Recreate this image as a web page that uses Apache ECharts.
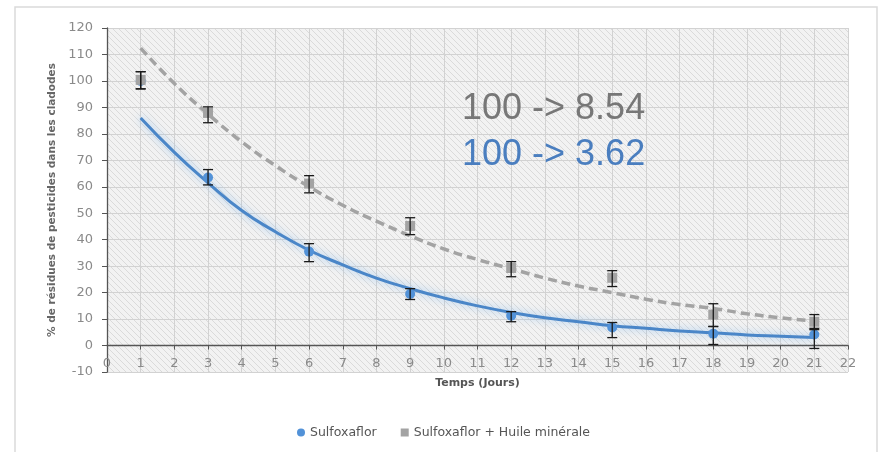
<!DOCTYPE html>
<html>
<head>
<meta charset="utf-8">
<script src="https://cdn.jsdelivr.net/npm/echarts@6/dist/echarts.min.js"></script>
<style>html,body{margin:0;padding:0;background:#fff}#c{width:879px;height:452px}</style>
</head>
<body>
<div id="c"></div>
<script>
// ---- data ----
const days = [1, 3, 6, 9, 12, 15, 18, 21];
const sulfo = [100, 63.5, 35.5, 19.5, 11.3, 6.8, 4.5, 4.2];
const sulfoHigh = [103.5, 66.5, 38.5, 21.5, 12.8, 8.7, 7.2, 6.5];
const sulfoLow = [97, 60.7, 31.7, 17.4, 9, 3, 0.4, -1.1];
const huile = [100.4, 87.9, 61.2, 45.2, 29.3, 25.6, 11.7, 9];
const huileHigh = [103.5, 90.2, 64.2, 48.3, 31.7, 28.3, 15.8, 11.7];
const huileLow = [97, 84.2, 57.7, 41.9, 26, 22.3, 7.2, 6];
const trendX = [1, 2, 3, 4, 5, 6, 7, 8, 9, 10, 11, 12, 13, 14, 15, 16, 17, 18, 19, 20, 21];
const sulfoTrend = [86, 73, 61.5, 51, 43, 36, 30.5, 25.5, 21.5, 18, 15, 12.5, 10.5, 9, 7.5, 6.5, 5.5, 4.8, 4, 3.5, 3];
const huileTrend = [112.4, 99, 87.5, 77, 68, 60, 53, 47, 41.5, 36.5, 32.5, 29, 25.5, 22.5, 20, 17.5, 15.5, 14, 12, 10.5, 9.2];
const annot1 = '100 -> 8.54';
const annot2 = '100 -> 3.62';
const seriesNames = ['Sulfoxaflor', 'Sulfoxaflor + Huile minérale'];
const xName = 'Temps (Jours)';
const yName = '% de résidues de pesticides dans les cladodes';

// hatch pattern
const pc = document.createElement('canvas');
pc.width = 6; pc.height = 6;
const g = pc.getContext('2d');
g.fillStyle = '#f2f2f2'; g.fillRect(0, 0, 6, 6);
g.strokeStyle = '#dadada'; g.lineWidth = 1;
g.beginPath(); g.moveTo(-1, -1); g.lineTo(7, 7); g.stroke();
g.beginPath(); g.moveTo(-1, 5); g.lineTo(1, 7); g.stroke();
g.beginPath(); g.moveTo(5, -1); g.lineTo(7, 1); g.stroke();

function pairs(xs, ys) { return xs.map((x, i) => [x, ys[i]]); }
function errData(lo, hi) { return days.map((d, i) => [d, lo[i], hi[i]]); }
function errRender(params, api) {
  const x = api.value(0), lo = api.value(1), hi = api.value(2);
  const a = api.coord([x, hi]), b = api.coord([x, lo]);
  const w = 5, st = { stroke: '#1a1a1a', lineWidth: 1.3 };
  return { type: 'group', children: [
    { type: 'line', shape: { x1: a[0], y1: a[1], x2: b[0], y2: b[1] }, style: st },
    { type: 'line', shape: { x1: a[0] - w, y1: a[1], x2: a[0] + w, y2: a[1] }, style: st },
    { type: 'line', shape: { x1: b[0] - w, y1: b[1], x2: b[0] + w, y2: b[1] }, style: st }
  ] };
}

const chart = echarts.init(document.getElementById('c'), null, { renderer: 'canvas' });
const font = 'DejaVu Sans';
chart.setOption({
  animation: false,
  backgroundColor: '#fff',
  grid: { left: 107, right: 31, top: 28, bottom: 80, show: true, borderWidth: 0,
          backgroundColor: { image: pc, repeat: 'repeat' } },
  xAxis: {
    type: 'value', min: 0, max: 22, interval: 1,
    name: xName, nameLocation: 'middle', nameGap: 6,
    nameTextStyle: { fontFamily: font, fontSize: 11, fontWeight: 'bold', color: '#555' },
    axisLine: { onZero: true, lineStyle: { color: '#555', width: 1.3 } },
    axisTick: { show: true, length: 4, lineStyle: { color: '#555' } },
    axisLabel: { fontFamily: font, fontSize: 13, color: '#8a8a8a', margin: -15 },
    splitLine: { show: true, lineStyle: { color: '#d2d2d2', width: 1 } }
  },
  yAxis: {
    type: 'value', min: -10, max: 120, interval: 10,
    name: yName, nameLocation: 'middle', nameGap: 49, nameRotate: 90,
    nameTextStyle: { fontFamily: font, fontSize: 10.5, fontWeight: 'bold', color: '#666' },
    axisLine: { show: true, onZero: false, lineStyle: { color: '#555', width: 1.3 } },
    axisTick: { show: true, length: 5, lineStyle: { color: '#555' } },
    axisLabel: { fontFamily: font, fontSize: 13, color: '#8a8a8a', margin: 14 },
    splitLine: { show: true, lineStyle: { color: '#d2d2d2', width: 1 } }
  },
  legend: {
    data: [{ name: seriesNames[0], icon: 'circle' }, { name: seriesNames[1], icon: 'rect' }],
    bottom: 8, left: 292, itemWidth: 8, itemHeight: 8, itemGap: 24,
    textStyle: { fontFamily: font, fontSize: 12.5, color: '#555' }
  },
  graphic: [
    { type: 'rect', shape: { x: 15, y: 7, width: 862, height: 470 }, style: { fill: 'none', stroke: '#dadada', lineWidth: 1.5 }, silent: true, z: -10 },
    { type: 'text', x: 462, y: 109, style: { text: annot1, font: '36px "Liberation Sans", Arial, sans-serif', fill: '#777777', verticalAlign: 'middle' }, z: 100 },
    { type: 'text', x: 462, y: 155, style: { text: annot2, font: '36px "Liberation Sans", Arial, sans-serif', fill: '#4a7ebf', verticalAlign: 'middle' }, z: 100 }
  ],
  series: [
    { name: 'trend1', type: 'line', data: pairs(trendX, sulfoTrend), smooth: true, showSymbol: false, z: 3,
      lineStyle: { color: '#4a86c8', width: 3, shadowColor: 'rgba(110,175,240,0.7)', shadowBlur: 8 } },
    { name: 'trend2', type: 'line', data: pairs(trendX, huileTrend), smooth: true, showSymbol: false, z: 3,
      lineStyle: { color: '#a3a3a3', width: 3.5, type: [9, 5] } },
    { name: seriesNames[0], type: 'scatter', data: pairs(days, sulfo), symbol: 'circle', symbolSize: 10, z: 4,
      itemStyle: { color: '#5292d8', opacity: 1 } },
    { name: seriesNames[1], type: 'scatter', data: pairs(days, huile), symbol: 'rect', symbolSize: 10, z: 5,
      itemStyle: { color: '#a3a3a3', opacity: 1 } },
    { name: 'err1', type: 'custom', data: errData(sulfoLow, sulfoHigh), renderItem: errRender, encode: { x: 0, y: [1, 2] }, z: 6 },
    { name: 'err2', type: 'custom', data: errData(huileLow, huileHigh), renderItem: errRender, encode: { x: 0, y: [1, 2] }, z: 6 }
  ]
});
</script>
</body>
</html>
